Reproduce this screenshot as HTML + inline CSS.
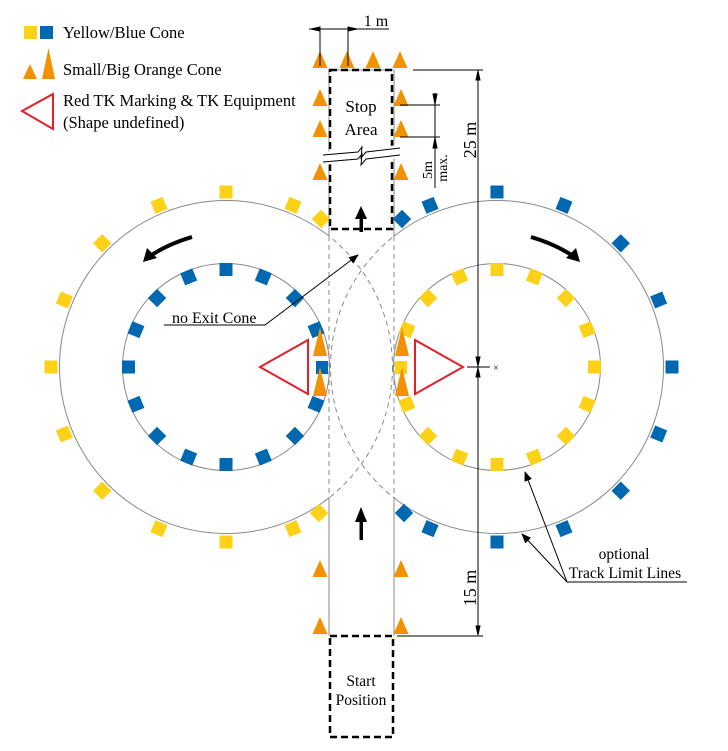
<!DOCTYPE html>
<html><head><meta charset="utf-8"><style>
html,body{margin:0;padding:0;background:#fff;}
svg{display:block;font-family:"Liberation Serif",serif;}
</style></head><body>
<svg id="c" width="728" height="751" viewBox="0 0 728 751" xmlns="http://www.w3.org/2000/svg">
<defs>
<marker id="ah" markerWidth="10" markerHeight="8" refX="9" refY="4" orient="auto" markerUnits="userSpaceOnUse"><path d="M0,0 L10,4 L0,8 z" fill="#000"/></marker>
</defs>
<g id="tracks"></g>
<g id="cones"></g>
<g id="annot">
  <rect x="330" y="70" width="62" height="159" fill="none" stroke="#000" stroke-width="2.5" stroke-dasharray="7,4"/>
  <polygon points="323,152 400,145 400,158 323,165" fill="#fff"/>
  <path d="M323,155 L358,152 L362,147 L361,158 L366,152 L400,148 M323,162 L358,159 L362,154 L361,165 L366,159 L400,155" fill="none" stroke="#000" stroke-width="1"/>
  <text x="361" y="112" text-anchor="middle" font-size="17">Stop</text>
  <text x="361" y="135" text-anchor="middle" font-size="17">Area</text>
  <rect x="330" y="636" width="63" height="101" fill="none" stroke="#000" stroke-width="2.5" stroke-dasharray="7,4"/>
  <text x="361" y="686" text-anchor="middle" font-size="15.5">Start</text>
  <text x="361" y="705" text-anchor="middle" font-size="15.5">Position</text>
  <g><rect x="359.5" y="218" width="3.5" height="14" fill="#000"/><polygon points="355,219 361,206 367,219" fill="#000"/></g>
  <g><rect x="359.5" y="520" width="3.5" height="20" fill="#000"/><polygon points="355,522 361,507 367,522" fill="#000"/></g>
  <g><path d="M192,237 Q168,244 150,256" fill="none" stroke="#000" stroke-width="4"/><polygon points="143,262 147,248 157,258" fill="#000"/></g>
  <g><path d="M531,237 Q555,244 573,256" fill="none" stroke="#000" stroke-width="4"/><polygon points="580,262 576,248 566,258" fill="#000"/></g>
  <g stroke="#000" stroke-width="1">
    <line x1="309" y1="29" x2="389" y2="29"/>
    <line x1="320" y1="27" x2="320" y2="66"/><line x1="348" y1="27" x2="348" y2="66"/>
    <polygon points="311,29 320,27 320,31" fill="#000"/><polygon points="357,29 348,27 348,31" fill="#000"/>
  </g>
  <text x="376" y="26" text-anchor="middle" font-size="16">1 m</text>
  <g stroke="#000" stroke-width="1">
    <line x1="413" y1="70" x2="483" y2="70"/>
    <line x1="397" y1="636" x2="483" y2="636"/>
    <line x1="478" y1="70" x2="478" y2="634"/>
    <line x1="467" y1="367" x2="490" y2="367"/>
    <polygon points="478,71 476,80 480,80" fill="#000"/>
    <polygon points="478,366 476,357 480,357" fill="#000"/>
    <polygon points="478,368 476,377 480,377" fill="#000"/>
    <polygon points="478,635 476,626 480,626" fill="#000"/>
  </g>
  <text x="496" y="371" font-size="10" text-anchor="middle">×</text>
  <text transform="translate(476,140) rotate(-90)" text-anchor="middle" font-size="18">25 m</text>
  <text transform="translate(476,588) rotate(-90)" text-anchor="middle" font-size="18">15 m</text>
  <g stroke="#000" stroke-width="1">
    <line x1="400" y1="105" x2="440" y2="105"/><line x1="400" y1="137" x2="440" y2="137"/>
    <line x1="435" y1="93" x2="435" y2="188"/>
    <polygon points="435,104 433,94 437,94" fill="#000"/><polygon points="435,138 433,148 437,148" fill="#000"/>
  </g>
  <text transform="translate(432,170) rotate(-90)" text-anchor="middle" font-size="14">5m</text>
  <text transform="translate(447,168) rotate(-90)" text-anchor="middle" font-size="14">max.</text>
  <text x="172" y="323" font-size="16">no Exit Cone</text>
  <polyline points="164,325 265,325 358,255" fill="none" stroke="#000" stroke-width="1" marker-end="url(#ah)"/>
  <text x="624" y="559" text-anchor="middle" font-size="15.5">optional</text>
  <text x="625" y="578" text-anchor="middle" font-size="15.5">Track Limit Lines</text>
  <polyline points="687,582 567,582 522,534" fill="none" stroke="#000" stroke-width="1" marker-end="url(#ah)"/>
  <polyline points="567,582 525,472" fill="none" stroke="#000" stroke-width="1" marker-end="url(#ah)"/>
</g>
<g id="legend">
  <rect x="24" y="26" width="13" height="13" fill="#fcd116"/>
  <rect x="40" y="26" width="13" height="13" fill="#0067b1"/>
  <text x="63" y="38" font-size="16.5">Yellow/Blue Cone</text>
  <polygon points="23,79 30,64 37,79" fill="#f39200"/>
  <polygon points="42,79 48.5,48 55,79" fill="#f39200"/>
  <text x="63" y="75" font-size="16.5">Small/Big Orange Cone</text>
  <polygon points="22,111 53,94 53,129" fill="none" stroke="#e3202b" stroke-width="2"/>
  <text x="63" y="106" font-size="16.5">Red TK Marking &amp; TK Equipment</text>
  <text x="63" y="128" font-size="16.5">(Shape undefined)</text>
</g>
</svg>
<script>
const NS='http://www.w3.org/2000/svg';
const centerL=[226,367], centerR=[497,367];
const outerR=166.5, innerR=103.5, outerConeR=175, innerConeR=97.5;
const outerAngles=[0,22.5,337.5,315,292.5,270,247.5,225,202.5,180,157.5];
const innerAngles=[0,22.5,45,67.5,112.5,135,157.5,180,202.5,225,247.5,270,292.5,315,337.5];
const orangeTopX=[320,347,373,400];
const orangeSideY=[106,137,180,577,634];
const tracks=document.getElementById('tracks'), cones=document.getElementById('cones');
function el(p,tag,a){const e=document.createElementNS(NS,tag);for(const k in a)e.setAttribute(k,a[k]);p.appendChild(e);return e;}
const cp=el(document.querySelector('defs'),'clipPath',{id:'outside'});
el(cp,'path',{d:'M0,0H329V751H0Z M394,0H728V751H394Z'});
const cpi=el(document.querySelector('defs'),'clipPath',{id:'inside'});
el(cpi,'rect',{x:329,y:0,width:65,height:751});
[centerL,centerR].forEach((c,i)=>{
  const o=el(tracks,'circle',{cx:c[0],cy:c[1],r:outerR,fill:'none',stroke:'#888','stroke-width':1,'clip-path':'url(#outside)'});
  
  
  const d=el(tracks,'circle',{cx:c[0],cy:c[1],r:outerR,fill:'none',stroke:'#888','stroke-width':1,'stroke-dasharray':'5,4','clip-path':'url(#inside)'});
  
  
  const n=el(tracks,'circle',{cx:c[0],cy:c[1],r:innerR,fill:'none',stroke:'#888','stroke-width':1});
  
  
});
[329,394].forEach((x,i)=>{
  const a=el(tracks,'path',{d:`M${x},70V236M${x},498V636`,stroke:'#888','stroke-width':1,fill:'none'});
  
  
  const b=el(tracks,'line',{x1:x,y1:236,x2:x,y2:498,stroke:'#888','stroke-width':1,'stroke-dasharray':'5,4'});
  
  
});
const tl=el(tracks,'line',{x1:329,y1:70,x2:394,y2:70,stroke:'#888','stroke-width':1});


const Y='#fcd116', B='#0067b1', O='#f39200';
function sq(c,r,ang,col,mirror){
  const rad=ang*Math.PI/180;
  let x=c[0]+r*Math.sin(rad)*(mirror?-1:1), y=c[1]-r*Math.cos(rad);
  const s=el(cones,'rect',{x:-6.5,y:-6.5,width:13,height:13,fill:col,transform:`translate(${x},${y}) rotate(${mirror?-ang:ang})`});
  
  
}
outerAngles.forEach(a=>{sq(centerL,outerConeR,a,Y,false);sq(centerR,outerConeR,a,B,true);});
innerAngles.forEach(a=>{sq(centerL,innerConeR,a,B,false);sq(centerR,innerConeR,a,Y,true);});
[[321,219],[319,513]].forEach(p=>{
  const a=el(cones,'rect',{x:-6.5,y:-6.5,width:13,height:13,fill:Y,transform:`translate(${p[0]},${p[1]}) rotate(${p[1]<367?45:-45})`});
  
  
  const b=el(cones,'rect',{x:-6.5,y:-6.5,width:13,height:13,fill:B,transform:`translate(${723-p[0]},${p[1]}) rotate(${p[1]<367?-45:45})`});
  
  
});
const sb=el(cones,'rect',{x:316,y:361,width:12,height:13,fill:B});


const sy=el(cones,'rect',{x:395,y:361,width:12,height:13,fill:Y});


function tri(x,yb,h,w){
  const t=el(cones,'polygon',{points:`${x-w/2},${yb} ${x},${yb-h} ${x+w/2},${yb}`,fill:O});
  
  
}
orangeTopX.forEach(x=>tri(x,68,17,15));
orangeSideY.forEach(y=>{tri(320,y,17,15);tri(401,y,17,15);});
[356,396].forEach(y=>{tri(320,y,29,14);tri(402,y,29,14);});
const r1=el(cones,'polygon',{points:'260,367 308,340 308,394',fill:'none',stroke:'#e3202b','stroke-width':2});


const r2=el(cones,'polygon',{points:'463,367 415,340 415,394',fill:'none',stroke:'#e3202b','stroke-width':2});


</script>
</body></html>
